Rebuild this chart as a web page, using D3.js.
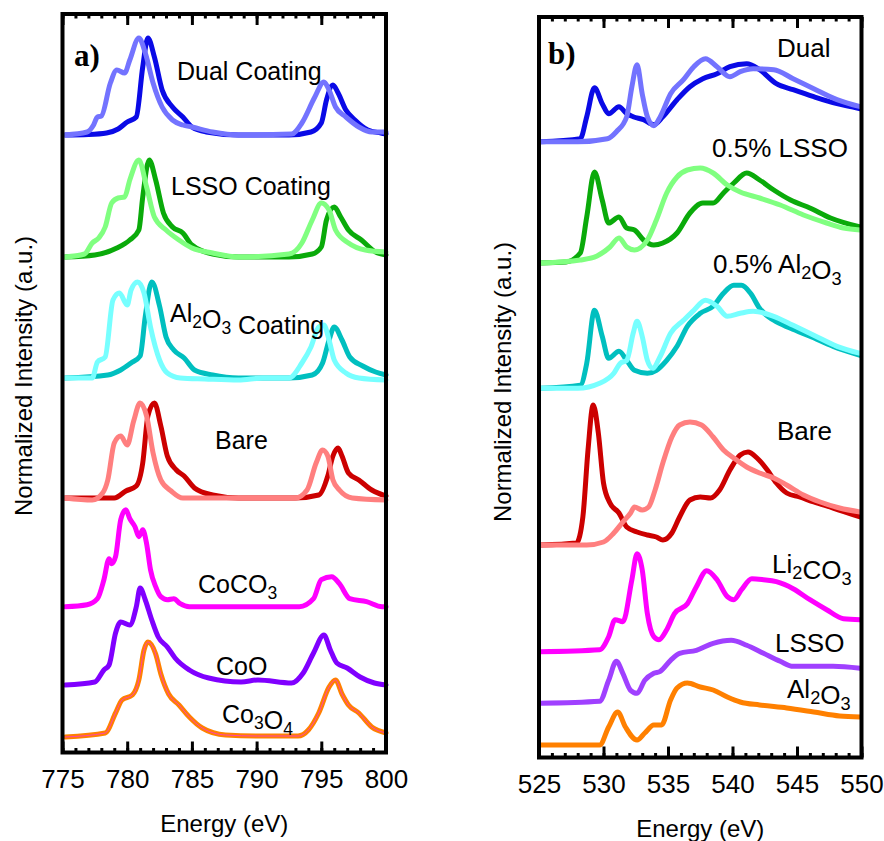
<!DOCTYPE html>
<html>
<head>
<meta charset="utf-8">
<script src="https://cdn.jsdelivr.net/npm/d3@7"></script>
<style>
  body { margin: 0; background: #fff; }
  svg { display: block; font-family: "Liberation Sans", Arial, sans-serif; }
</style>
</head>
<body>
<svg id="chart" width="884" height="841"></svg>
<script>
// Co L-edge (a) and O K-edge (b) XAS spectra, stacked with offsets
// each series is [energy eV, normalized intensity]; offsets lift each curve

// ---- panel a : Co L-edge ----
var dualDarkA = [[775.2,0],[777,0.005],[778.4,0.02],[779.3,0.06],[780,0.13],[780.7,0.18],[781.2,0.68],[781.6,0.97],[782.1,0.78],[782.7,0.45],[783.5,0.28],[784.3,0.18],[785,0.08],[786.1,0.03],[788.6,0],[792.5,0],[794.2,0.03],[795,0.12],[795.4,0.35],[795.9,0.5],[796.3,0.42],[796.9,0.25],[797.6,0.15],[798.6,0.05],[799.6,0.02],[800,0.01]];
var dualLightA = [[775.2,0],[776.9,0.03],[777.4,0.1],[777.7,0.18],[778,0.19],[778.7,0.52],[779.2,0.65],[779.8,0.62],[780.2,0.75],[780.9,0.97],[781.4,0.82],[782,0.52],[782.7,0.28],[783.5,0.15],[784.3,0.1],[785,0.08],[786.6,0.03],[788.6,0],[792.7,0.01],[793.5,0.12],[794.5,0.38],[795.2,0.53],[795.6,0.45],[796.1,0.28],[796.9,0.18],[797.9,0.08],[798.9,0.03],[800,0.03]];
var lssoDarkA = [[775.2,0],[777.5,0.02],[779.2,0.09],[780.2,0.17],[780.9,0.27],[781.2,0.6],[781.7,0.97],[782.2,0.77],[782.8,0.44],[783.5,0.3],[784.3,0.24],[785,0.12],[786.6,0.03],[788.6,0],[792.5,0],[794.3,0.03],[795,0.1],[795.4,0.37],[796,0.5],[796.5,0.4],[797.1,0.27],[798.1,0.17],[799.2,0.05],[800,0.02]];
var lssoLightA = [[775.2,0],[776.7,0.03],[777.3,0.14],[777.8,0.19],[778.3,0.3],[778.8,0.54],[779.3,0.59],[779.8,0.6],[780.2,0.77],[780.9,0.97],[781.5,0.7],[782.1,0.4],[783,0.27],[784,0.17],[785,0.09],[786.6,0.04],[788.6,0],[792.5,0.03],[793.5,0.14],[794.3,0.37],[795,0.54],[795.6,0.47],[796.1,0.27],[797.1,0.14],[798.4,0.07],[800,0.05]];
var alDarkA = [[775.2,0],[778.5,0.03],[779.5,0.08],[780.3,0.15],[781,0.22],[781.4,0.62],[781.9,0.96],[782.5,0.72],[783,0.41],[783.6,0.28],[784.4,0.2],[785.2,0.08],[786.6,0.03],[788.6,0],[792.5,0],[794.3,0.03],[795.1,0.15],[795.6,0.38],[796,0.51],[796.6,0.38],[797.2,0.21],[798.2,0.12],[799.2,0.06],[800,0.03]];
var alLightA = [[775.2,0],[777.3,0],[777.7,0.16],[778.3,0.21],[778.9,0.78],[779.4,0.85],[780,0.73],[780.3,0.88],[780.8,0.96],[781.3,0.85],[781.8,0.51],[782.5,0.18],[783.1,0.05],[784.1,0],[786,-0.01],[788.6,-0.02],[790.5,0],[792.5,0],[793.5,0.15],[794.2,0.31],[794.8,0.51],[795.2,0.53],[795.6,0.38],[796,0.18],[796.9,0.05],[797.9,0],[800,-0.02]];
var bareDarkA = [[775.2,0],[779,0],[779.9,0.07],[780.7,0.12],[781.2,0.35],[781.6,0.82],[782.1,0.95],[782.6,0.72],[783.1,0.42],[783.8,0.28],[784.4,0.22],[785.2,0.1],[786.6,0.03],[788.6,0],[793,0],[794.8,0.03],[795.5,0.22],[795.9,0.42],[796.3,0.5],[796.6,0.42],[797.1,0.25],[797.9,0.18],[798.9,0.08],[800,0.02]];
var bareLightA = [[775.2,0],[777.3,-0.02],[778.1,0.05],[778.5,0.18],[779,0.55],[779.5,0.62],[780,0.53],[780.5,0.77],[781,0.95],[781.5,0.82],[782,0.45],[782.6,0.18],[783.4,0.07],[784.3,0],[793,0],[793.9,0.08],[794.6,0.35],[795.1,0.48],[795.5,0.42],[795.9,0.18],[796.4,0.08],[797.4,0],[800,-0.02]];
var coco3A = [[775.2,0],[776.9,0.02],[777.7,0.08],[778.2,0.27],[778.6,0.48],[778.8,0.43],[779.1,0.5],[779.5,0.87],[779.9,0.97],[780.2,0.88],[780.6,0.8],[780.9,0.7],[781.2,0.77],[781.5,0.63],[781.8,0.37],[782.2,0.2],[782.6,0.1],[783.1,0.07],[783.6,0.08],[784.1,0.03],[784.8,0],[793.3,0],[794.4,0.08],[795,0.27],[795.8,0.3],[796.4,0.23],[797.2,0.08],[798.5,0.05],[799.7,0],[800,0]];
var cooA = [[775.2,0],[777.5,0.03],[778.2,0.15],[778.6,0.2],[779.1,0.52],[779.5,0.63],[780.2,0.6],[780.7,0.78],[781,0.97],[781.4,0.85],[781.9,0.65],[782.4,0.48],[783.1,0.38],[783.7,0.27],[784.8,0.15],[786.3,0.07],[788.8,0.03],[790.1,0.05],[792.7,0.02],[793.6,0.12],[794.4,0.32],[795.2,0.5],[795.7,0.35],[796.2,0.22],[797,0.17],[798,0.08],[799.1,0.02],[800,0]];
var co3o4A = [[775.2,0],[778.3,0.04],[779.1,0.24],[779.6,0.37],[780.4,0.42],[780.9,0.57],[781.3,0.87],[781.6,0.95],[782.2,0.83],[782.6,0.63],[783.2,0.43],[784,0.32],[784.8,0.2],[785.8,0.09],[787.6,0.02],[790.1,0.01],[793.2,0.01],[794,0.07],[794.8,0.24],[795.6,0.5],[796.1,0.57],[796.6,0.43],[797.1,0.32],[797.9,0.24],[798.9,0.1],[800,0.04]];

// ---- panel b : O K-edge ----
var dualDarkB = [[525.1,0],[528.2,0.03],[528.7,0.25],[529.3,0.54],[529.9,0.38],[530.4,0.28],[531.2,0.35],[531.8,0.28],[532.3,0.25],[533.1,0.22],[533.9,0.17],[534.6,0.25],[535.7,0.42],[536.7,0.55],[537.7,0.63],[538.8,0.68],[539.8,0.75],[541.1,0.78],[542.1,0.72],[543.4,0.58],[544.7,0.52],[546.3,0.45],[548.1,0.38],[549.9,0.33]];
var dualLightB = [[525.1,0],[528,0],[530.3,0.03],[531,0.1],[531.8,0.25],[532.2,0.55],[532.6,0.77],[533,0.48],[533.4,0.25],[533.9,0.16],[534.4,0.25],[535.2,0.48],[536.2,0.62],[537,0.75],[537.9,0.83],[538.8,0.75],[539.8,0.65],[540.6,0.7],[541.6,0.73],[543.2,0.72],[544.7,0.63],[546.3,0.53],[548.1,0.42],[549.9,0.35]];
var lssoDarkB = [[525.1,0],[527.1,0.01],[528.2,0.1],[528.7,0.46],[529.3,0.91],[529.9,0.63],[530.4,0.4],[531.2,0.46],[531.8,0.35],[532.4,0.33],[533.1,0.23],[533.9,0.18],[534.6,0.2],[535.7,0.3],[536.7,0.5],[537.7,0.6],[538.5,0.6],[539.3,0.7],[540.1,0.8],[541.1,0.9],[542.1,0.83],[543.2,0.73],[544.5,0.63],[546,0.55],[547.6,0.45],[549.9,0.36]];
var lssoLightB = [[525.1,0],[528.2,0.03],[529.5,0.07],[530.5,0.16],[531.2,0.25],[531.8,0.16],[532.4,0.13],[533.4,0.23],[534.1,0.43],[534.9,0.7],[535.7,0.86],[536.5,0.93],[537.5,0.95],[538.5,0.9],[539.6,0.78],[540.6,0.71],[542.1,0.65],[543.7,0.58],[545.5,0.48],[547.3,0.4],[548.6,0.35],[549.9,0.33]];
var alDarkB = [[525.1,0],[528.2,0.03],[528.7,0.25],[529.3,0.78],[529.9,0.52],[530.4,0.3],[531.2,0.37],[531.8,0.28],[532.4,0.18],[533.4,0.15],[534.1,0.18],[534.9,0.28],[535.7,0.42],[536.5,0.62],[537.5,0.75],[538.5,0.82],[539.3,0.95],[540.1,1.03],[540.7,1.03],[541.4,0.95],[542.1,0.8],[543.2,0.68],[544.5,0.6],[546,0.52],[547.8,0.42],[549.9,0.33]];
var alLightB = [[525.1,0],[528,0],[529.7,0.05],[530.8,0.15],[531.3,0.25],[531.8,0.28],[532.3,0.55],[532.6,0.67],[533,0.52],[533.4,0.28],[533.8,0.2],[534.4,0.32],[535.2,0.55],[536.2,0.68],[537,0.78],[537.9,0.88],[538.8,0.82],[539.6,0.72],[540.6,0.75],[541.6,0.77],[543.2,0.72],[544.7,0.63],[546.3,0.53],[548.1,0.42],[549.9,0.35]];
var bareDarkB = [[525.1,0],[527.9,0.02],[528.4,0.28],[528.8,0.95],[529.2,1.4],[529.6,1.12],[530,0.62],[530.5,0.42],[531.2,0.32],[531.8,0.18],[532.6,0.13],[533.4,0.1],[534.1,0.08],[534.6,0.05],[535.3,0.12],[535.9,0.28],[536.7,0.45],[537.5,0.48],[538.3,0.47],[539,0.55],[539.8,0.75],[540.6,0.9],[541.2,0.93],[541.9,0.87],[542.7,0.75],[543.4,0.62],[544.2,0.52],[545.2,0.48],[546.3,0.43],[547.8,0.37],[549.9,0.28]];
var bareLightB = [[525.1,0],[528.7,0],[530,0.03],[530.8,0.12],[531.5,0.23],[532.1,0.32],[532.4,0.38],[533,0.35],[533.5,0.38],[534,0.55],[534.6,0.82],[535.3,1.08],[535.9,1.2],[536.7,1.23],[537.6,1.2],[538.5,1.08],[539.3,0.95],[540.1,0.87],[541.1,0.78],[542.1,0.72],[543.2,0.67],[544.2,0.6],[545.5,0.5],[546.8,0.43],[548.3,0.37],[549.9,0.33]];
var li2co3B = [[525.1,0],[529.7,0.02],[530.4,0.15],[530.9,0.32],[531.5,0.3],[532.2,0.72],[532.6,0.98],[533,0.82],[533.4,0.38],[533.9,0.15],[534.3,0.12],[534.9,0.22],[535.5,0.38],[536.5,0.48],[537.2,0.65],[538,0.81],[538.8,0.72],[539.6,0.55],[540.1,0.52],[540.7,0.62],[541.5,0.73],[542.4,0.72],[543.4,0.7],[544.7,0.63],[546,0.52],[547.3,0.42],[548.6,0.33],[549.9,0.32]];
var lssoRefB = [[525.1,0],[529.7,0.02],[530.4,0.23],[531,0.42],[531.5,0.3],[532.1,0.13],[532.6,0.1],[533.2,0.23],[533.9,0.3],[534.4,0.32],[535.2,0.43],[535.9,0.5],[537.2,0.53],[538.5,0.6],[539.9,0.63],[541.1,0.58],[542.4,0.5],[543.7,0.42],[544.7,0.37],[546.3,0.37],[547.8,0.37],[549.9,0.35]];
var al2o3RefB = [[525.1,0],[529.7,0],[530.4,0.18],[531.1,0.33],[531.7,0.18],[532.6,0.05],[533.2,0.12],[533.9,0.2],[534.5,0.2],[535.2,0.45],[535.7,0.57],[536.5,0.62],[537.5,0.58],[538.5,0.55],[539.6,0.48],[540.6,0.43],[542.1,0.4],[544.2,0.37],[546.3,0.33],[548.3,0.29],[549.9,0.28]];

// vertical offsets of each stacked curve (same units as intensity)
var offsetsA = [6.175, 4.955, 3.745, 2.545, 1.458, 0.675, 0.155];
var offsetsB = [6.158, 4.945, 3.692, 2.125, 1.058, 0.542, 0.125];

// tick values
var majorTicksA = [775, 780, 785, 790, 795, 800];
var majorTicksB = [525, 530, 535, 540, 545, 550];

var svg = d3.select("#chart");
svg.append("rect").attr("width", 884).attr("height", 841).attr("fill", "#fff");

function drawPanel(p) {
    var x = d3.scaleLinear().domain(p.xDomain).range([p.left, p.right]);
    var y = d3.scaleLinear().domain([0, p.yMax]).range([p.bottom, p.top]);
    var g = svg.append("g");

    var line = d3.line()
        .x(function(d) { return x(d[0]); })
        .y(function(d) { return y(d[1] + d[2]); })
        .curve(d3.curveMonotoneX);

    // curves
    p.series.forEach(function(s) {
        var pts = s.data.map(function(d) { return [d[0], d[1], p.offsets[s.row]]; });
        g.append("path")
            .attr("d", line(pts))
            .attr("fill", "none")
            .attr("stroke", s.color)
            .attr("stroke-width", s.width || 5)
            .attr("stroke-linejoin", "round")
            .attr("stroke-linecap", "round");
    });

    // minor + major ticks, top and bottom, pointing inward
    var minor = d3.range(p.xDomain[0], p.xDomain[1] + 0.5, 1);
    [[d3.axisBottom, p.bottom], [d3.axisTop, p.top]].forEach(function(a) {
        var gm = g.append("g").attr("transform", "translate(0," + a[1] + ")")
            .call(a[0](x).tickValues(minor).tickSize(-4.5).tickFormat(""));
        gm.select(".domain").remove();
        gm.selectAll("line").attr("stroke", "#000").attr("stroke-width", 3);
        var gM = g.append("g").attr("transform", "translate(0," + a[1] + ")")
            .call(a[0](x).tickValues(p.majorTicks).tickSize(-11)
                .tickFormat(a[0] === d3.axisBottom ? d3.format("d") : ""));
        gM.select(".domain").remove();
        gM.selectAll("line").attr("stroke", "#000").attr("stroke-width", 3);
        gM.selectAll("text")
            .attr("y", 35.5).attr("dy", 0)
            .attr("font-size", 26)
            .attr("font-family", "Liberation Sans, Arial, sans-serif")
            .attr("fill", "#000");
    });

    // frame
    g.append("rect")
        .attr("x", p.left).attr("y", p.top)
        .attr("width", p.right - p.left).attr("height", p.bottom - p.top)
        .attr("fill", "none").attr("stroke", "#000").attr("stroke-width", 4);

    // panel letter
    g.append("text")
        .attr("x", p.letterX).attr("y", p.letterY)
        .attr("font-family", "Liberation Serif, Times New Roman, serif")
        .attr("font-weight", "bold").attr("font-size", 31)
        .text(p.letter);

    // curve labels with subscripts
    p.labels.forEach(function(l) {
        var t = g.append("text")
            .attr("x", l.x).attr("y", l.y)
            .attr("font-size", p.labelSize).attr("fill", "#000");
        l.parts.forEach(function(part) {
            if (part.sub) {
                t.append("tspan").attr("font-size", p.labelSize * 0.7).attr("dy", 6).text(part.sub);
                t.append("tspan").attr("dy", -6).text("");
            } else {
                t.append("tspan").text(part.t);
            }
        });
    });

    // axis titles
    g.append("text")
        .attr("x", (p.left + p.right) / 2).attr("y", p.xTitleY)
        .attr("text-anchor", "middle").attr("font-size", 24)
        .text("Energy (eV)");
    g.append("text")
        .attr("transform", "translate(" + p.yTitleX + "," + p.yTitleY + ") rotate(-90)")
        .attr("text-anchor", "middle").attr("font-size", 24)
        .text("Normalized Intensity (a.u.)");
}

drawPanel({
    xDomain: [775, 800], left: 62.5, right: 386, top: 14, bottom: 752.5, yMax: 7.385,
    majorTicks: majorTicksA, offsets: offsetsA, letter: "a)", letterX: 74, letterY: 66,
    xTitleY: 832, yTitleX: 31.5, yTitleY: 376, labelSize: 25,
    series: [
        {data: dualDarkA, row: 0, color: "#0a0ae6"},
        {data: dualLightA, row: 0, color: "#7373ff"},
        {data: lssoDarkA, row: 1, color: "#0aaa0a"},
        {data: lssoLightA, row: 1, color: "#80ff80"},
        {data: alDarkA, row: 2, color: "#00bfbf"},
        {data: alLightA, row: 2, color: "#77ffff"},
        {data: bareDarkA, row: 3, color: "#cc0000"},
        {data: bareLightA, row: 3, color: "#ff7f7f"},
        {data: coco3A, row: 4, color: "#ff00ff"},
        {data: cooA, row: 5, color: "#8000ff"},
        {data: co3o4A, row: 6, color: "#ff8000", width: 5},
        {data: co3o4A, row: 6, color: "#ff40b0", width: 1}
    ],
    labels: [
        {x: 177, y: 80, parts: [{t: "Dual Coating"}]},
        {x: 171, y: 195, parts: [{t: "LSSO Coating"}]},
        {x: 170, y: 322, parts: [{t: "Al"}, {sub: "2"}, {t: "O"}, {sub: "3"}, {t: " Coating"}]},
        {x: 215, y: 449, parts: [{t: "Bare"}]},
        {x: 198, y: 593, parts: [{t: "CoCO"}, {sub: "3"}]},
        {x: 216, y: 675, parts: [{t: "CoO"}]},
        {x: 222, y: 723, parts: [{t: "Co"}, {sub: "3"}, {t: "O"}, {sub: "4"}]}
    ]
});

drawPanel({
    xDomain: [525, 550], left: 539, right: 861.5, top: 17, bottom: 757.5, yMax: 7.405,
    majorTicks: majorTicksB, offsets: offsetsB, letter: "b)", letterX: 548, letterY: 64,
    xTitleY: 837, yTitleX: 511, yTitleY: 382, labelSize: 26,
    series: [
        {data: dualDarkB, row: 0, color: "#0a0ae6"},
        {data: dualLightB, row: 0, color: "#7373ff"},
        {data: lssoDarkB, row: 1, color: "#0aaa0a"},
        {data: lssoLightB, row: 1, color: "#80ff80"},
        {data: alDarkB, row: 2, color: "#00bfbf"},
        {data: alLightB, row: 2, color: "#77ffff"},
        {data: bareDarkB, row: 3, color: "#cc0000"},
        {data: bareLightB, row: 3, color: "#ff7f7f"},
        {data: li2co3B, row: 4, color: "#ff00ff"},
        {data: lssoRefB, row: 5, color: "#a040ff"},
        {data: al2o3RefB, row: 6, color: "#ff8000"}
    ],
    labels: [
        {x: 777, y: 57, parts: [{t: "Dual"}]},
        {x: 712, y: 157, parts: [{t: "0.5% LSSO"}]},
        {x: 713, y: 273, parts: [{t: "0.5% Al"}, {sub: "2"}, {t: "O"}, {sub: "3"}]},
        {x: 777, y: 440, parts: [{t: "Bare"}]},
        {x: 772, y: 573, parts: [{t: "Li"}, {sub: "2"}, {t: "CO"}, {sub: "3"}]},
        {x: 775, y: 652, parts: [{t: "LSSO"}]},
        {x: 787, y: 698, parts: [{t: "Al"}, {sub: "2"}, {t: "O"}, {sub: "3"}]}
    ]
});
</script>
</body>
</html>
